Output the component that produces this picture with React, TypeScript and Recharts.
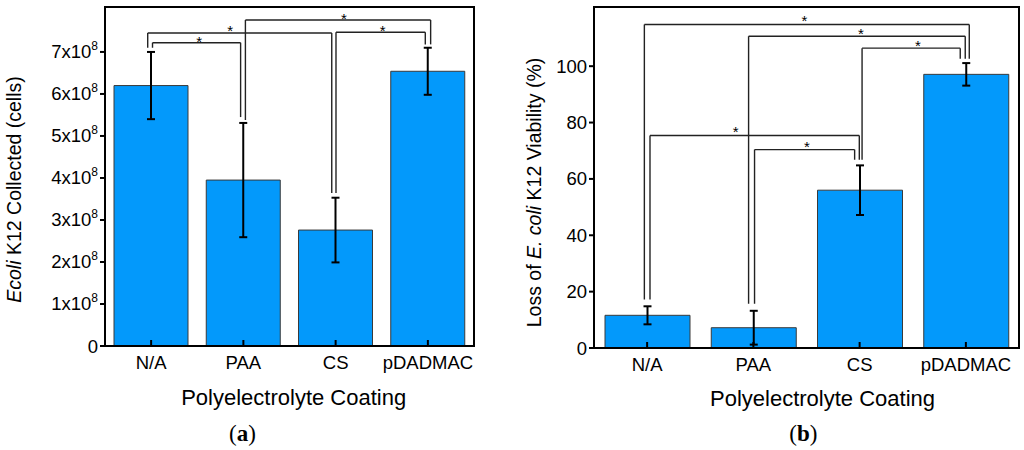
import React from "react";
import {
  ComposedChart,
  Bar,
  ErrorBar,
  Scatter,
  XAxis,
  YAxis,
  ReferenceLine,
  ReferenceArea,
} from "recharts";

// categories along x (numeric positions so bracket ends can sit a bit off-centre)
const categories = ["N/A", "PAA", "CS", "pDADMAC"];
const positions = [0, 1, 2, 3];

// panel (a): E. coli K12 collected (cells)
const collectedMean = [6.2e8, 3.95e8, 2.76e8, 6.54e8];
const collectedErr = [0.8e8, 1.36e8, 0.77e8, 0.56e8];
const collectedTicks = [0, 1e8, 2e8, 3e8, 4e8, 5e8, 6e8, 7e8];

// panel (b): loss of viability (%)
const viabilityMean = [11.6, 7.2, 56.0, 97.1];
const viabilityErr = [3.2, 6.0, 8.8, 4.0];
const viabilityTicks = [0, 20, 40, 60, 80, 100];

// significance brackets: x1/x2 in category units, top = bar height of bracket,
// y1/y2 = where the legs stop, sx/sy = the star
const collectedBrackets = [
  { x1: 0.015, x2: 0.97, top: 7.22e8, y1: 7.1e8, y2: 5.45e8, sx: 0.52, sy: 7.31e8 },
  { x1: -0.037, x2: 1.958, top: 7.45e8, y1: 7.1e8, y2: 3.64e8, sx: 0.856, sy: 7.57e8 },
  { x1: 1.022, x2: 3.03, top: 7.76e8, y1: 5.38e8, y2: 7.18e8, sx: 2.09, sy: 7.86e8 },
  { x1: 2.004, x2: 2.972, top: 7.47e8, y1: 3.64e8, y2: 7.18e8, sx: 2.51, sy: 7.57e8 },
];

const viabilityBrackets = [
  { x1: -0.026, x2: 3.032, top: 114.8, y1: 17.2, y2: 102.6, sx: 1.48, sy: 117.2 },
  { x1: 0.955, x2: 2.994, top: 110.6, y1: 15.7, y2: 102.6, sx: 2.013, sy: 112.4 },
  { x1: 2.023, x2: 2.947, top: 106.4, y1: 66.8, y2: 102.6, sx: 2.548, sy: 108.2 },
  { x1: 0.027, x2: 1.997, top: 75.4, y1: 17.2, y2: 66.8, sx: 0.833, sy: 77.8 },
  { x1: 1.011, x2: 1.953, top: 70.4, y1: 15.7, y2: 66.8, sx: 1.505, sy: 72.3 },
];

const FONT = "'Liberation Sans', Arial, sans-serif";
const SERIF = "'Liberation Serif', 'Times New Roman', serif";
const BAR_FILL = "#0399fb";

const collectedData = positions.map((p, i) => ({
  pos: p,
  value: collectedMean[i],
  err: collectedErr[i],
}));
const viabilityData = positions.map((p, i) => ({
  pos: p,
  value: viabilityMean[i],
  err: viabilityErr[i],
}));

// x ticks point inward (up into the plot)
const XTick = (props: any) => {
  const { x, y, payload } = props;
  return (
    <g>
      <line x1={x} x2={x} y1={y} y2={y - 6} stroke="#000" strokeWidth={2} />
      <text x={x} y={y + 23} textAnchor="middle" fontSize={18.5} fontFamily={FONT} fill="#000">
        {categories[payload.value]}
      </text>
    </g>
  );
};

const SciTick = (props: any) => {
  const { x, y, payload } = props;
  const v = payload.value;
  if (v === 0) {
    return (
      <text x={x} y={y + 6.5} textAnchor="end" fontSize={18.5} fontFamily={FONT} fill="#000">
        0
      </text>
    );
  }
  return (
    <text x={x} y={y + 6.5} textAnchor="end" fontSize={18.5} fontFamily={FONT} fill="#000">
      <tspan>{`${Math.round(v / 1e8)}x10`}</tspan>
      <tspan dy={-8} fontSize={12}>
        8
      </tspan>
    </text>
  );
};

const PlainTick = (props: any) => {
  const { x, y, payload } = props;
  return (
    <text x={x} y={y + 6.5} textAnchor="end" fontSize={18.5} fontFamily={FONT} fill="#000">
      {payload.value}
    </text>
  );
};

const Star = (props: any) => (
  <text x={props.cx} y={props.cy + 8} textAnchor="middle" fontSize={15} fontFamily={FONT} fill="#000">
    *
  </text>
);

function bracketLines(list: typeof collectedBrackets, width: number) {
  return list.flatMap((b, i) => [
    <ReferenceLine
      key={`l${i}`}
      segment={[{ x: b.x1, y: b.y1 }, { x: b.x1, y: b.top }]}
      stroke="#222"
      strokeWidth={width}
    />,
    <ReferenceLine
      key={`t${i}`}
      segment={[{ x: b.x1, y: b.top }, { x: b.x2, y: b.top }]}
      stroke="#222"
      strokeWidth={width}
    />,
    <ReferenceLine
      key={`r${i}`}
      segment={[{ x: b.x2, y: b.top }, { x: b.x2, y: b.y2 }]}
      stroke="#222"
      strokeWidth={width}
    />,
  ]);
}

function Panel({
  data,
  brackets,
  yMax,
  yTicks,
  tick,
  yWidth,
  margin,
  xHeight,
  barSize,
}: any) {
  return (
    <ComposedChart width={512} height={450} data={data} margin={margin}>
      <ReferenceArea x1={-0.5} x2={3.5} y1={0} y2={yMax} fill="none" stroke="#000" strokeWidth={2} />
      <XAxis
        dataKey="pos"
        type="number"
        domain={[-0.5, 3.5]}
        ticks={positions}
        tick={<XTick />}
        tickLine={false}
        tickSize={0}
        tickMargin={0}
        height={xHeight}
        axisLine={{ stroke: "#000", strokeWidth: 2 }}
        allowDataOverflow
      />
      {/* same scale, hidden: keeps the stars from shrinking the bar band */}
      <XAxis
        xAxisId="stars"
        dataKey="pos"
        type="number"
        domain={[-0.5, 3.5]}
        height={0}
        hide
        allowDataOverflow
      />
      <YAxis
        type="number"
        domain={[0, yMax]}
        ticks={yTicks}
        tick={tick}
        width={yWidth}
        tickSize={5}
        tickMargin={2}
        tickLine={{ stroke: "#000", strokeWidth: 2 }}
        axisLine={{ stroke: "#000", strokeWidth: 2 }}
        allowDataOverflow
      />
      <Bar
        dataKey="value"
        fill={BAR_FILL}
        stroke="#3a3a3a"
        strokeWidth={1}
        barSize={barSize}
        isAnimationActive={false}
      >
        <ErrorBar dataKey="err" direction="y" width={4} stroke="#000" strokeWidth={2} />
      </Bar>
      {bracketLines(brackets, 1.4)}
      <Scatter
        xAxisId="stars"
        data={brackets.map((b: any) => ({ pos: b.sx, v: b.sy }))}
        dataKey="v"
        shape={<Star />}
        isAnimationActive={false}
      />
    </ComposedChart>
  );
}

export default function App() {
  return (
    <div
      style={{
        position: "absolute",
        left: 0,
        top: 0,
        width: 1024,
        height: 450,
        background: "#fff",
        fontFamily: FONT,
      }}
    >
      <div style={{ position: "absolute", left: 0, top: 0 }}>
        <Panel
          data={collectedData}
          brackets={collectedBrackets}
          yMax={8.07e8}
          yTicks={collectedTicks}
          tick={<SciTick />}
          yWidth={105}
          margin={{ top: 7, right: 38, left: 0, bottom: 0 }}
          xHeight={104}
          barSize={74}
        />
      </div>
      <div style={{ position: "absolute", left: 512, top: 0 }}>
        <Panel
          data={viabilityData}
          brackets={viabilityBrackets}
          yMax={121}
          yTicks={viabilityTicks}
          tick={<PlainTick />}
          yWidth={82}
          margin={{ top: 7, right: 5, left: 0, bottom: 0 }}
          xHeight={102}
          barSize={85}
        />
      </div>
      {/* axis titles and panel letters */}
      <svg
        width={1024}
        height={450}
        style={{ position: "absolute", left: 0, top: 0, pointerEvents: "none" }}
      >
        <text x={293.7} y={405} textAnchor="middle" fontSize={22} fontFamily={FONT} fill="#000">
          Polyelectrolyte Coating
        </text>
        <text x={822.5} y={406} textAnchor="middle" fontSize={22} fontFamily={FONT} fill="#000">
          Polyelectrolyte Coating
        </text>
        <text
          x={21}
          y={189.5}
          transform="rotate(-90 21 189.5)"
          textAnchor="middle"
          fontSize={19.5}
          fontFamily={FONT}
          fill="#000"
        >
          <tspan fontStyle="italic">Ecoli</tspan> K12 Collected (cells)
        </text>
        <text
          x={541}
          y={192.5}
          transform="rotate(-90 541 192.5)"
          textAnchor="middle"
          fontSize={19.5}
          fontFamily={FONT}
          fill="#000"
        >
          Loss of <tspan fontStyle="italic">E. coli</tspan> K12 Viability (%)
        </text>
        <text x={242.5} y={441} textAnchor="middle" fontSize={23} fontFamily={SERIF} fill="#000">
          (<tspan fontWeight="bold">a</tspan>)
        </text>
        <text x={803.3} y={441} textAnchor="middle" fontSize={23} fontFamily={SERIF} fill="#000">
          (<tspan fontWeight="bold">b</tspan>)
        </text>
      </svg>
    </div>
  );
}
